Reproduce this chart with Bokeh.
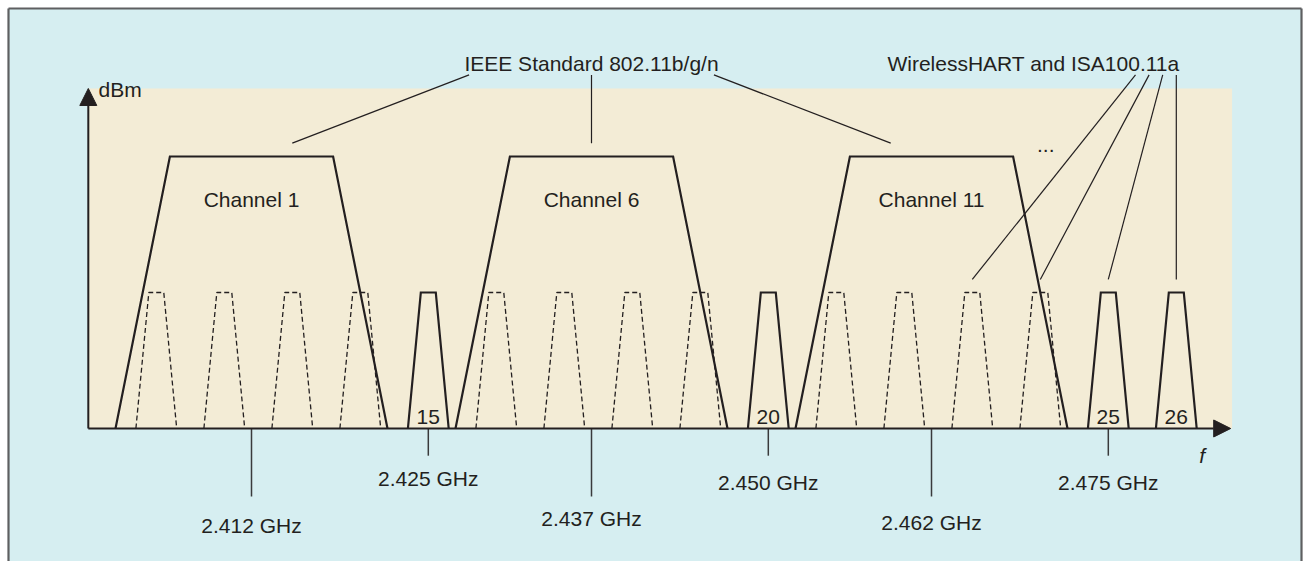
from bokeh.plotting import figure
from bokeh.models import Range1d, Arrow, NormalHead
from bokeh.core.properties import value
from bokeh.embed import file_html
from bokeh.resources import INLINE

# ---------------- data ----------------
# IEEE 802.11b/g/n (Wi-Fi) channels
wifi_names = ["Channel 1", "Channel 6", "Channel 11"]
wifi_center_mhz = [2412, 2437, 2462]
wifi_level = 2.0            # relative power level (dBm axis, arbitrary units)
wifi_half_bottom_mhz = 10.0
wifi_half_top_mhz = 6.0

# IEEE 802.15.4 channels used by WirelessHART and ISA100.11a
zigbee_channels = [11, 12, 13, 14, 15, 16, 17, 18, 19, 20, 21, 22, 23, 24, 25, 26]
zigbee_center_mhz = [2405, 2410, 2415, 2420, 2425, 2430, 2435, 2440,
                     2445, 2450, 2455, 2460, 2465, 2470, 2475, 2480]
zigbee_clear = [15, 20, 25, 26]   # channels not overlapped by Wi-Fi (solid, labelled)
zigbee_level = 1.0
zigbee_half_bottom_mhz = 1.5
zigbee_half_top_mhz = 0.55

# frequency markers under the axis
freq_ticks_mhz = [2412, 2425, 2437, 2450, 2462, 2475]
freq_tick_labels = ["2.412 GHz", "2.425 GHz", "2.437 GHz", "2.450 GHz", "2.462 GHz", "2.475 GHz"]

# annotations
ieee_title = "IEEE Standard 802.11b/g/n"
wireless_title = "WirelessHART and ISA100.11a"
wireless_targets = [23, 24, 25, 26]

# ---------------- layout / style ----------------
W, H = 1303, 561
PX_PER_MHZ = 13.6
PX_PER_LEVEL = 136.0
x_start = 2393.544
y_top = 3.147
x_end = x_start + W / PX_PER_MHZ
y_bottom = y_top - H / PX_PER_LEVEL
box_left = x_start + 8 / PX_PER_MHZ
box_right = x_start + 1301 / PX_PER_MHZ
box_top = y_top - 8 / PX_PER_LEVEL

FONT = value("Liberation Sans")
FS = "21px"
TXT = "#231F20"
BG = "#D6EEF1"
PANEL = "#F3ECD6"
FRAME = "#5E5F61"
axis_x0 = 2400.0
axis_x_tip = 2484.0
axis_y_tip = 2.5

p = figure(width=W, height=H, output_backend="svg", toolbar_location=None,
           x_range=Range1d(x_start, x_end), y_range=Range1d(y_bottom, y_top),
           x_axis_location=None, y_axis_location=None, min_border=0,
           background_fill_color="white", border_fill_color="white", outline_line_color=None)
p.grid.visible = False

# light-blue box with its frame
p.quad(left=[box_left], right=[box_right], bottom=[y_bottom - 1], top=[box_top],
       fill_color=BG, line_color=None)
p.segment(x0=[box_left, box_left, box_right], y0=[y_bottom - 1, box_top, box_top],
          x1=[box_left, box_right, box_right], y1=[box_top, box_top, y_bottom - 1],
          line_color=FRAME, line_width=2.2)

# beige plot panel
p.quad(left=[axis_x0], right=[axis_x_tip + 0.1], bottom=[0], top=[axis_y_tip],
       fill_color=PANEL, line_color=None)

# Wi-Fi trapezoids
wx, wy = [], []
for c in wifi_center_mhz:
    wx.append([c - wifi_half_bottom_mhz, c - wifi_half_top_mhz, c + wifi_half_top_mhz, c + wifi_half_bottom_mhz])
    wy.append([0, wifi_level, wifi_level, 0])
p.multi_line(xs=wx, ys=wy, line_color=TXT, line_width=2.2, line_join="miter")

# 802.15.4 trapezoids
dx, dy, sx, sy = [], [], [], []
for ch, c in zip(zigbee_channels, zigbee_center_mhz):
    xs = [c - zigbee_half_bottom_mhz, c - zigbee_half_top_mhz, c + zigbee_half_top_mhz, c + zigbee_half_bottom_mhz]
    ys = [0, zigbee_level, zigbee_level, 0]
    if ch in zigbee_clear:
        sx.append(xs); sy.append(ys)
    else:
        dx.append(xs); dy.append(ys)
p.multi_line(xs=dx, ys=dy, line_color=TXT, line_width=1.3, line_dash="5 3")
p.multi_line(xs=sx, ys=sy, line_color=TXT, line_width=2.2, line_join="miter")

# axes with arrows
p.add_layout(Arrow(end=NormalHead(size=17, fill_color=TXT, line_color=TXT, line_width=1),
                   x_start=axis_x0, y_start=0, x_end=axis_x_tip, y_end=0,
                   line_color=TXT, line_width=2))
p.add_layout(Arrow(end=NormalHead(size=17, fill_color=TXT, line_color=TXT, line_width=1),
                   x_start=axis_x0, y_start=0, x_end=axis_x0, y_end=axis_y_tip,
                   line_color=TXT, line_width=2))

# frequency marker lines and labels
long_ticks = set(wifi_center_mhz)
tick_len = [-0.5 if f in long_ticks else -0.2 for f in freq_ticks_mhz]
p.segment(x0=freq_ticks_mhz, y0=[0] * len(freq_ticks_mhz), x1=freq_ticks_mhz, y1=tick_len,
          line_color="#3A3A3C", line_width=1.5)
label_base = [-0.713, -0.370, -0.664, -0.399, -0.689, -0.399]
p.text(x=freq_ticks_mhz, y=label_base, text=freq_tick_labels, text_align="center",
       text_baseline="alphabetic", text_font=FONT, text_font_size=FS, text_color=TXT)

# channel names
p.text(x=wifi_center_mhz, y=[1.684] * 3, text=wifi_names, text_align="center",
       text_baseline="alphabetic", text_font=FONT, text_font_size=FS, text_color=TXT)

# clear-channel numbers
clear_x = [c for ch, c in zip(zigbee_channels, zigbee_center_mhz) if ch in zigbee_clear]
p.text(x=clear_x, y=[0.083] * len(clear_x), text=[str(ch) for ch in zigbee_clear],
       text_align="center", text_baseline="alphabetic", text_font=FONT,
       text_font_size=FS, text_color=TXT)

# titles
p.text(x=[2437, 2469.5], y=[2.682, 2.682], text=[ieee_title, wireless_title],
       text_align="center", text_baseline="alphabetic", text_font=FONT,
       text_font_size=FS, text_color=TXT)

# leader lines
ieee_top_x = [2428, 2437, 2446]
ieee_bottom_x = [2415, 2437, 2459]
p.segment(x0=ieee_top_x, y0=[2.60] * 3, x1=ieee_bottom_x, y1=[wifi_level + 0.098] * 3,
          line_color=TXT, line_width=1.2)
wl_top_x = [2477, 2478, 2479, 2480]
wl_bottom_x = [zigbee_center_mhz[zigbee_channels.index(ch)] for ch in wireless_targets]
p.segment(x0=wl_top_x, y0=[2.60] * 4, x1=wl_bottom_x, y1=[zigbee_level + 0.096] * 4,
          line_color=TXT, line_width=1.2)

# axis names and ellipsis
p.text(x=[2400.75], y=[2.493], text=["dBm"], text_align="left", text_baseline="alphabetic",
       text_font=FONT, text_font_size=FS, text_color=TXT)
p.text(x=[2481.9], y=[-0.199], text=["f"], text_align="center", text_baseline="alphabetic",
       text_font=FONT, text_font_size=FS, text_font_style="italic", text_color=TXT)
p.text(x=[2470.4], y=[2.088], text=["..."], text_align="center", text_baseline="alphabetic",
       text_font=FONT, text_font_size=FS, text_color=TXT)

open("out.html", "w").write(file_html(p, INLINE))
